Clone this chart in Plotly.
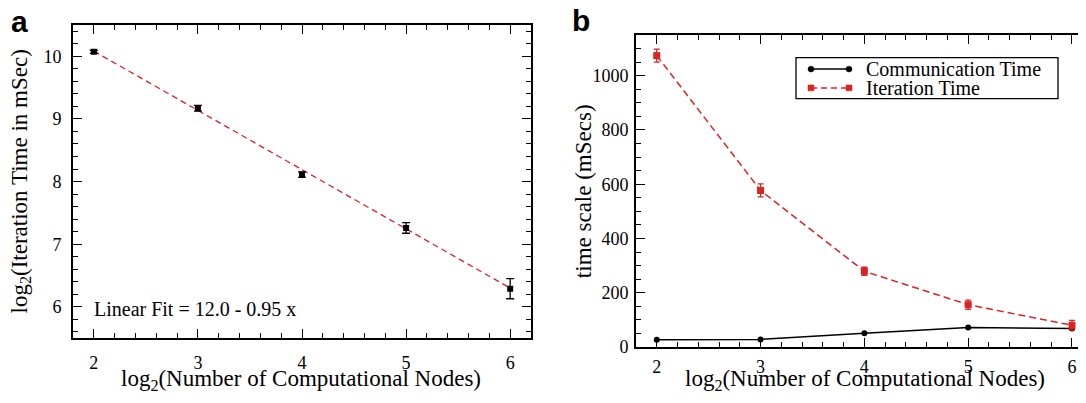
import plotly.graph_objects as go

# ---------------- data ----------------
nodes_log2 = [2, 3, 4, 5, 6]

# panel a
iter_log2 = [10.07, 9.17, 8.11, 7.26, 6.29]
iter_log2_err = [0.025, 0.045, 0.045, 0.085, 0.16]
fit_x = [2, 6]
fit_y = [10.08, 6.30]
fit_label = "Linear Fit = 12.0 - 0.95 x"

# panel b
iter_ms = [1074, 577, 279, 156, 80]
iter_ms_err = [24, 24, 15, 17, 18]
comm_ms = [27, 28, 51, 72, 68]

x_ticks = [2, 3, 4, 5, 6]
ya_ticks = [6, 7, 8, 9, 10]
yb_ticks = [0, 200, 400, 600, 800, 1000]

# ---------------- layout helpers ----------------
# the page body has an 8px margin; size the figure so the page is 1086x403
OFF = 8
W, H = 1086 - OFF, 403 - 2 * OFF
RED = "#dc2323"
SERIF = "Liberation Serif, Times New Roman, serif"
SANS = "Liberation Sans, Arial, sans-serif"


def px(x):
    return (x - OFF) / W


def py(y):
    return 1 - (y - OFF) / H


fig = go.Figure()

# panel a
fig.add_trace(go.Scatter(
    x=fit_x, y=fit_y, mode="lines", xaxis="x", yaxis="y",
    line=dict(color=RED, width=1.3, dash="6px,4px"), showlegend=False))
fig.add_trace(go.Scatter(
    x=nodes_log2, y=iter_log2, mode="markers", xaxis="x", yaxis="y",
    marker=dict(symbol="square", size=6, color="black"),
    error_y=dict(type="data", array=iter_log2_err, color="black", thickness=1.3, width=4),
    showlegend=False))

# panel b
fig.add_trace(go.Scatter(
    x=nodes_log2, y=comm_ms, mode="lines+markers", xaxis="x2", yaxis="y2",
    name="Communication Time",
    line=dict(color="black", width=1.5),
    marker=dict(symbol="circle", size=6, color="black"), showlegend=False))
fig.add_trace(go.Scatter(
    x=nodes_log2, y=iter_ms, mode="lines+markers", xaxis="x2", yaxis="y2",
    name="Iteration Time",
    line=dict(color=RED, width=1.5, dash="7px,4px"),
    marker=dict(symbol="square", size=7, color=RED),
    error_y=dict(type="data", array=iter_ms_err, color=RED, thickness=1.3, width=3),
    showlegend=False))

tickfont = dict(family=SERIF, size=18, color="black")


def ax_common(**kw):
    d = dict(showgrid=False, zeroline=False, ticks="inside", ticklen=9,
             tickwidth=1.3, tickcolor="black", tickfont=tickfont,
             linecolor="black", linewidth=1.6)
    d.update(kw)
    return d


minor_x = dict(ticks="inside", ticklen=5, dtick=0.2, tickwidth=1.2, tickcolor="black")

fig.update_layout(
    width=W, height=H,
    margin=dict(l=0, r=0, t=0, b=0),
    paper_bgcolor="white", plot_bgcolor="white",
    showlegend=False,
    xaxis=ax_common(domain=[px(73), px(531)], range=[1.8, 6.2], anchor="y",
                    tickvals=x_ticks, showline=True, mirror="ticks",
                    minor=minor_x, ticklabelstandoff=7),
    yaxis=ax_common(domain=[py(347), py(25.3)], range=[5.5, 10.5], anchor="x",
                    tickvals=ya_ticks, showline=True, mirror="ticks",
                    minor=dict(ticks="inside", ticklen=5, dtick=0.2, tickwidth=1.2,
                               tickcolor="black"), ticklabelstandoff=6),
    xaxis2=ax_common(domain=[px(636), 1.0], range=[1.8, 6.135], anchor="y2",
                     tickvals=x_ticks, showline=True, mirror="ticks",
                     minor=minor_x, ticklabelstandoff=3),
    yaxis2=ax_common(domain=[py(356), py(35.7)], range=[0, 1150], anchor="x2",
                     tickvals=yb_ticks, showline=True, mirror=False,
                     minor=dict(ticks="inside", ticklen=5, dtick=50, tickwidth=1.2,
                                tickcolor="black"), ticklabelstandoff=2),
    yaxis3=dict(overlaying="y2", anchor="x2", side="right", range=[0, 1150],
                tick0=0, dtick=200, showticklabels=False, ticks="inside",
                ticklen=4, tickwidth=1.3, tickcolor="black", showgrid=False,
                zeroline=False, showline=False),
)

# dummy trace so yaxis3 is rendered
fig.add_trace(go.Scatter(x=[None], y=[None], xaxis="x2", yaxis="y3",
                         showlegend=False, hoverinfo="skip"))

ann = []
titlefont = dict(family=SERIF, size=23, color="black")
ann.append(dict(text="log<sub>2</sub>(Number of Computational Nodes)",
                x=px(301), y=py(390), xref="paper", yref="paper",
                showarrow=False, font=titlefont, xanchor="center", yanchor="middle",
                borderpad=0))
ann.append(dict(text="log<sub>2</sub>(Number of Computational Nodes)",
                x=px(864.5), y=py(390), xref="paper", yref="paper",
                showarrow=False, font=titlefont, xanchor="center", yanchor="middle",
                borderpad=0))
ann.append(dict(text="log<sub>2</sub>(Iteration Time in mSec)",
                x=px(21), y=py(186), xref="paper", yref="paper", textangle=-90,
                showarrow=False, font=titlefont, xanchor="center", yanchor="middle"))
ann.append(dict(text="time scale (mSecs)",
                x=px(583), y=py(196), xref="paper", yref="paper", textangle=-90,
                showarrow=False, font=titlefont, xanchor="center", yanchor="middle"))
ann.append(dict(text=fit_label, x=px(92), y=py(317), xref="paper", yref="paper",
                showarrow=False, font=dict(family=SERIF, size=20, color="black"),
                xanchor="left", yanchor="middle"))
ann.append(dict(text="<b>a</b>", x=px(10), y=py(22), xref="paper", yref="paper",
                showarrow=False, font=dict(family=SANS, size=30, color="black"),
                xanchor="left", yanchor="middle", borderpad=0))
ann.append(dict(text="<b>b</b>", x=px(571), y=py(21), xref="paper", yref="paper",
                showarrow=False, font=dict(family=SANS, size=30, color="black"),
                xanchor="left", yanchor="middle", borderpad=0))

# manual legend (Grace style)
shapes = []
shapes.append(dict(type="rect", xref="paper", yref="paper",
                   x0=px(796), x1=px(1058), y0=py(101), y1=py(59),
                   line=dict(color="black", width=1.3), fillcolor="white", layer="above"))
leg = [("Communication Time", 70.7, "black", "solid", "circle"),
       ("Iteration Time", 90.0, RED, "6px,4px", "square")]
for name, yy, col, dash, sym in leg:
    shapes.append(dict(type="line", xref="paper", yref="paper",
                       x0=px(811), x1=px(849), y0=py(yy), y1=py(yy),
                       line=dict(color=col, width=1.5, dash=dash), layer="above"))
    for xx in (811, 849):
        shapes.append(dict(type="circle" if sym == "circle" else "rect",
                           xref="paper", yref="paper",
                           x0=px(xx - 3), x1=px(xx + 3), y0=py(yy + 3), y1=py(yy - 3),
                           line=dict(color=col, width=0.5), fillcolor=col, layer="above"))
    ann.append(dict(text=name, x=px(864), y=py(yy), xref="paper", yref="paper",
                    showarrow=False, font=dict(family=SERIF, size=20, color="black"),
                    xanchor="left", yanchor="middle"))

fig.update_layout(annotations=ann, shapes=shapes)

fig.write_html("out.html")
